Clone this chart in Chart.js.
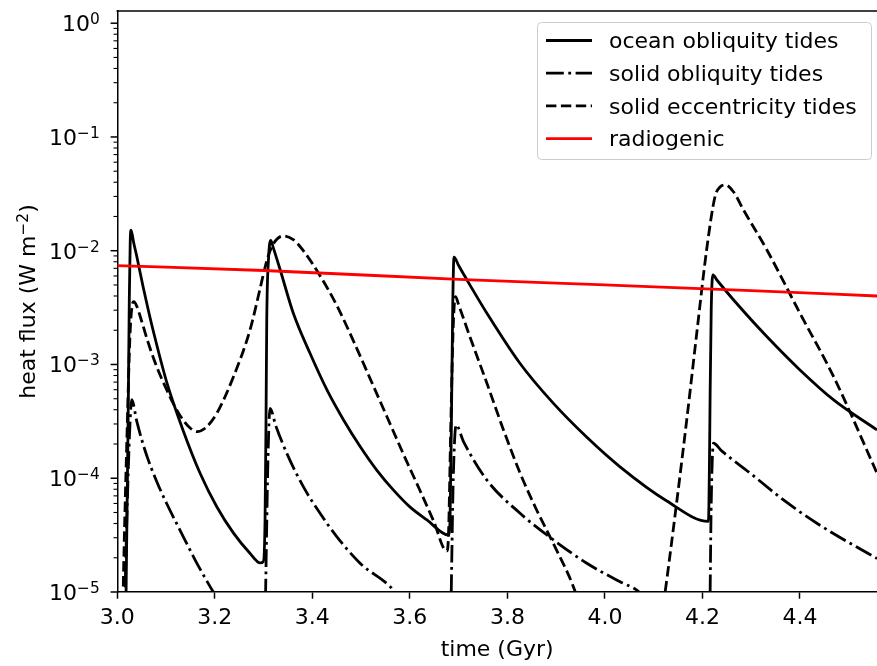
<!DOCTYPE html>
<html>
<head>
<meta charset="utf-8">
<script src="https://cdn.jsdelivr.net/npm/chart.js@4.4.0/dist/chart.umd.min.js"></script>
<style>
  html, body { margin: 0; padding: 0; background: #fff; }
  #wrap { width: 877px; height: 666px; }
</style>
</head>
<body>
<div id="wrap"><canvas id="flux"></canvas></div>
<script>
// Heat flux vs time (time in Gyr, flux in W m^-2)
// null marks a gap where a curve drops out of the plotted range

const oceanTime = [3.012, 3.018, 3.0226, 3.0246, 3.0265, 3.0281, 3.0335, 3.040, 3.053, 3.064, 3.074, 3.101, 3.135, 3.170, 3.204, 3.238, 3.272, 3.293, 3.2995, 3.303, 3.305, 3.3065, 3.310, 3.3147, 3.320, 3.334, 3.361, 3.395, 3.430, 3.464, 3.498, 3.532, 3.566, 3.600, 3.635, 3.679, 3.6824, 3.686, 3.688, 3.6905, 3.700, 3.723, 3.758, 3.826, 3.894, 3.963, 4.031, 4.127, 4.2123, 4.2145, 4.2158, 4.218, 4.2213, 4.230, 4.264, 4.332, 4.400, 4.469, 4.558];
const oceanFlux = [1e-6, 1e-5, 4.9e-4, 3.7e-3, 1.2e-2, 1.52e-2, 1.18e-2, 8.9e-3, 4.79e-3, 2.95e-3, 1.95e-3, 7.08e-4, 2.63e-4, 1.10e-4, 5.62e-5, 3.31e-5, 2.19e-5, 1.8e-5, 1.85e-5, 4.3e-5, 3.25e-4, 2.46e-3, 8.3e-3, 1.23e-2, 1.06e-2, 6.8e-3, 2.82e-3, 1.26e-3, 5.97e-4, 3.25e-4, 1.9e-4, 1.18e-4, 7.9e-5, 5.6e-5, 4.3e-5, 3.17e-5, 4.3e-5, 6.4e-4, 3.45e-3, 8.8e-3, 7.41e-3, 5.01e-3, 2.82e-3, 1.02e-3, 4.57e-4, 2.29e-4, 1.26e-4, 6.31e-5, 4.17e-5, 1.5e-4, 5.6e-4, 3.0e-3, 6.12e-3, 5.5e-3, 3.69e-3, 1.76e-3, 8.95e-4, 4.88e-4, 2.66e-4];

const oblTime = [3.012, 3.016, 3.022, 3.026, 3.0295, 3.040, 3.050, 3.062, 3.081, 3.101, 3.129, 3.160, 3.190, 3.200, 3.250, 3.303, 3.306, 3.309, 3.3132, 3.325, 3.3475, 3.3815, 3.4158, 3.450, 3.4978, 3.5662, 3.576, 3.630, 3.683, 3.686, 3.689, 3.6948, 3.710, 3.7577, 3.826, 3.8944, 3.9629, 4.0312, 4.0654, 4.076, 4.150, 4.2145, 4.2158, 4.218, 4.2226, 4.240, 4.2978, 4.3662, 4.4346, 4.5508, 4.558];
const oblFlux = [1e-6, 1e-5, 1e-4, 3e-4, 4.9e-4, 3.16e-4, 2.19e-4, 1.51e-4, 9.33e-5, 6.03e-5, 3.47e-5, 1.9e-5, 1.12e-5, 9.5e-6, null, 5e-6, 3e-5, 1.5e-4, 4.12e-4, 2.9e-4, 1.66e-4, 8.43e-5, 4.92e-5, 3.07e-5, 1.79e-5, 1.04e-5, 9e-6, null, 3e-6, 2e-5, 1e-4, 2.94e-4, 2.1e-4, 9.66e-5, 4.92e-5, 2.87e-5, 1.79e-5, 1.23e-5, 1.04e-5, 9.5e-6, null, 3e-6, 1e-5, 6e-5, 2.03e-4, 1.73e-4, 1.11e-4, 6.44e-5, 4.02e-5, 2.05e-5, 1.97e-5];

const eccTime = [3.008, 3.012, 3.020, 3.026, 3.030, 3.034, 3.040, 3.050, 3.062, 3.080, 3.101, 3.118, 3.135, 3.150, 3.163, 3.180, 3.204, 3.238, 3.272, 3.293, 3.300, 3.310, 3.320, 3.3405, 3.360, 3.3815, 3.4158, 3.450, 3.484, 3.518, 3.553, 3.587, 3.621, 3.648, 3.6757, 3.679, 3.684, 3.689, 3.6935, 3.700, 3.723, 3.758, 3.792, 3.826, 3.860, 3.894, 3.939, 3.950, 4.000, 4.115, 4.1235, 4.1475, 4.168, 4.1885, 4.209, 4.226, 4.236, 4.2466, 4.2636, 4.284, 4.332, 4.400, 4.469, 4.558];
const eccFlux = [1e-6, 1e-5, 2.5e-4, 1.8e-3, 3.2e-3, 3.57e-3, 3.24e-3, 2.40e-3, 1.62e-3, 9.77e-4, 6.03e-4, 4.27e-4, 3.24e-4, 2.75e-4, 2.57e-4, 2.75e-4, 3.72e-4, 7.76e-4, 2.0e-3, 4.68e-3, 6.31e-3, 9.12e-3, 1.15e-2, 1.35e-2, 1.26e-2, 1.0e-2, 6.03e-3, 3.31e-3, 1.62e-3, 7.59e-4, 3.47e-4, 1.62e-4, 7.76e-5, 4.27e-5, 2.29e-5, 3.0e-5, 3.0e-4, 2.2e-3, 3.95e-3, 3.35e-3, 1.76e-3, 6.84e-4, 2.66e-4, 1.11e-4, 5.26e-5, 2.68e-5, 1.01e-5, 7e-6, null, 5.6e-6, 1e-5, 6.31e-5, 3.31e-4, 1.91e-3, 1.05e-2, 3.02e-2, 3.63e-2, 3.79e-2, 3.3e-2, 2.29e-2, 1.02e-2, 2.82e-3, 7.82e-4, 1.11e-4];

const radTime = [3.0, 3.3, 3.7, 4.0, 4.3, 4.558];
const radFlux = [7.4e-3, 6.7e-3, 5.6e-3, 5.0e-3, 4.45e-3, 4.0e-3];

// axis ticks
const xTicks = [3.0, 3.2, 3.4, 3.6, 3.8, 4.0, 4.2, 4.4];
const yDecades = [-5, -4, -3, -2, -1, 0];
const yMinorSteps = [2, 3, 4, 5, 6, 7, 8, 9];

const FONT = '"DejaVu Sans"';
const FS = 22;
const SUP = 15.4;
Chart.defaults.font.family = FONT;
Chart.defaults.color = '#000';

function toPoints(xs, ys) {
    return xs.map((x, i) => ({ x: x, y: ys[i] }));
}

// all y tick values: decades plus 2..9 minors in between
const yTickValues = [];
yDecades.forEach(e => {
    yTickValues.push(Math.pow(10, e));
    if (e < 0) yMinorSteps.forEach(k => yTickValues.push(k * Math.pow(10, e)));
});

const datasets = [
    { label: 'ocean obliquity tides', data: toPoints(oceanTime, oceanFlux), borderColor: '#000', borderDash: [], order: 1 },
    { label: 'solid obliquity tides', data: toPoints(oblTime, oblFlux), borderColor: '#000', borderDash: [17.8, 4.5, 2.8, 4.5], order: 1 },
    { label: 'solid eccentricity tides', data: toPoints(eccTime, eccFlux), borderColor: '#000', borderDash: [10.4, 4.5], order: 1 },
    { label: 'radiogenic', data: toPoints(radTime, radFlux), borderColor: '#ff0000', borderDash: [], order: 0 }
].map(d => ({
    ...d,
    borderWidth: 2.8,
    pointRadius: 0,
    fill: false,
    clip: 0,
    spanGaps: false,
    cubicInterpolationMode: 'monotone',
    borderCapStyle: 'butt',
    borderJoinStyle: 'round'
}));

// draw "10" with a raised exponent, right edge at xRight
function drawPower(ctx, exp, xRight, yMid) {
    const sup = exp < 0 ? '\u2212' + (-exp) : String(exp);
    ctx.font = SUP + 'px ' + FONT;
    const sw = ctx.measureText(sup).width;
    ctx.textAlign = 'left';
    ctx.fillText(sup, xRight - sw, yMid + 0.8);
    ctx.font = FS + 'px ' + FONT;
    ctx.textAlign = 'right';
    ctx.fillText('10', xRight - sw, yMid + 7.8);
}

const decorations = {
    id: 'decorations',
    afterDraw(chart) {
        const ctx = chart.ctx;
        const area = chart.chartArea;
        const y = chart.scales.y;
        ctx.save();
        ctx.strokeStyle = '#000';
        ctx.fillStyle = '#000';

        // top spine
        ctx.lineWidth = 1.5;
        ctx.beginPath();
        ctx.moveTo(area.left - 0.75, area.top);
        ctx.lineTo(area.right, area.top);
        ctx.stroke();

        // y tick marks, long on decades, short on minors
        y.ticks.forEach(t => {
            const lg = Math.log10(t.value);
            const major = Math.abs(lg - Math.round(lg)) < 1e-6;
            const py = y.getPixelForValue(t.value);
            ctx.lineWidth = major ? 1.5 : 1.1;
            ctx.beginPath();
            ctx.moveTo(area.left - (major ? 6.7 : 3.8), py);
            ctx.lineTo(area.left, py);
            ctx.stroke();
        });

        // y tick labels
        ctx.textBaseline = 'alphabetic';
        yDecades.forEach(e => {
            drawPower(ctx, e, area.left - 17.5, y.getPixelForValue(Math.pow(10, e)));
        });

        // y axis title, rotated, with superscript
        ctx.save();
        ctx.translate(35, (area.top + area.bottom) / 2);
        ctx.rotate(-Math.PI / 2);
        const parts = [
            { t: 'heat flux (W m', s: FS, dy: 0 },
            { t: '\u22122', s: SUP, dy: -7.3 },
            { t: ')', s: FS, dy: 0 }
        ];
        let total = 0;
        parts.forEach(p => { ctx.font = p.s + 'px ' + FONT; p.w = ctx.measureText(p.t).width; total += p.w; });
        let cx = -total / 2;
        ctx.textAlign = 'left';
        parts.forEach(p => {
            ctx.font = p.s + 'px ' + FONT;
            ctx.fillText(p.t, cx, p.dy);
            cx += p.w;
        });
        ctx.restore();

        // legend box in the upper right
        const boxW = 334, boxH = 137;
        const bx = area.right - 5.5 - boxW;
        const by = area.top + 11.5;
        ctx.fillStyle = 'rgba(255,255,255,0.8)';
        ctx.strokeStyle = '#cccccc';
        ctx.lineWidth = 1;
        ctx.beginPath();
        ctx.roundRect(bx, by, boxW, boxH, 4);
        ctx.fill();
        ctx.stroke();

        ctx.font = FS + 'px ' + FONT;
        ctx.textAlign = 'left';
        ctx.fillStyle = '#000';
        datasets.forEach((d, i) => {
            const ry = by + 18 + i * 32.7;
            ctx.strokeStyle = d.borderColor;
            ctx.lineWidth = d.borderWidth;
            ctx.lineCap = 'butt';
            ctx.setLineDash(d.borderDash);
            ctx.beginPath();
            ctx.moveTo(bx + 8.5, ry);
            ctx.lineTo(bx + 54.5, ry);
            ctx.stroke();
            ctx.setLineDash([]);
            ctx.fillText(d.label, bx + 71.5, ry + 7.6);
        });
        ctx.restore();
    }
};

const chart = new Chart(document.getElementById('flux'), {
    type: 'line',
    data: { datasets: datasets },
    options: {
        responsive: true,
        maintainAspectRatio: false,
        devicePixelRatio: 1,
        animation: false,
        layout: { padding: { top: 11, right: 0, bottom: 0, left: 0 } },
        plugins: {
            legend: { display: false },
            tooltip: { enabled: false }
        },
        scales: {
            x: {
                type: 'linear',
                min: 3.0,
                max: 4.558,
                bounds: 'data',
                afterBuildTicks: scale => { scale.ticks = xTicks.map(v => ({ value: v })); },
                afterFit: scale => { scale.height = 74; },
                grid: { display: true, drawOnChartArea: false, drawTicks: true, tickLength: 6.7, tickWidth: 1.5, tickColor: '#000' },
                border: { display: true, color: '#000', width: 1.5 },
                ticks: {
                    autoSkip: false,
                    maxRotation: 0,
                    padding: 6,
                    color: '#000',
                    font: { size: FS },
                    callback: v => v.toFixed(1)
                },
                title: { display: true, text: 'time (Gyr)', color: '#000', font: { size: FS }, padding: { top: 0, bottom: 3 } }
            },
            y: {
                type: 'logarithmic',
                min: 1e-5,
                max: 1.28,
                bounds: 'data',
                afterBuildTicks: scale => { scale.ticks = yTickValues.map(v => ({ value: v })); },
                afterFit: scale => { scale.width = 117.3; },
                grid: { display: false },
                border: { display: true, color: '#000', width: 1.5 },
                ticks: { display: false }
            }
        }
    },
    plugins: [decorations]
});
</script>
</body>
</html>
